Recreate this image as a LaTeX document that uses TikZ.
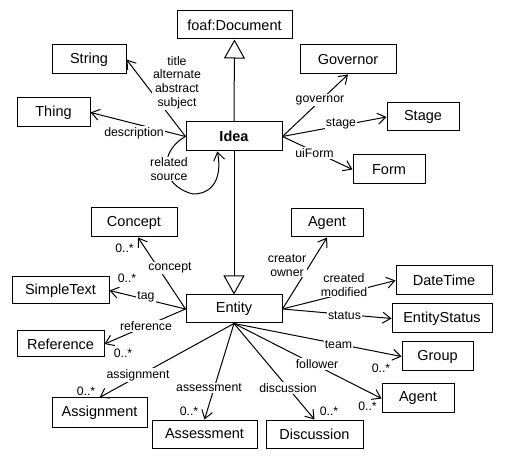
\documentclass[tikz,border=0pt]{standalone}
\usepackage{fontspec}
\setmainfont{Liberation Sans}
\usetikzlibrary{arrows.meta}
\begin{document}
\begin{tikzpicture}[x=1pt,y=-1pt,line width=1pt,
  box/.style={draw=black,inner sep=0pt,font=\fontsize{14.5}{16}\selectfont},
  lbl/.style={fill=white,inner sep=1pt,align=center,font=\fontsize{12.3}{13.7}\selectfont},
  assoc/.style={-{Straight Barb[length=8pt,width=11pt]}},
  gen/.style={-{Triangle[open,length=19pt,width=21pt]}}]
  \useasboundingbox (0,0) rectangle (509,462);
  % classes
  \node[box,minimum width=115,minimum height=28] (document) at (234.5,25) {foaf:Document};
  \node[box,minimum width=74,minimum height=29] (string) at (89,59.5) {String};
  \node[box,minimum width=73,minimum height=29] (thing) at (53.5,112.5) {Thing};
  \node[box,minimum width=96,minimum height=29,font=\fontsize{14.5}{16}\selectfont\bfseries] (idea) at (234,136.5) {Idea};
  \node[box,minimum width=96,minimum height=29] (governor) at (348,59.5) {Governor};
  \node[box,minimum width=72,minimum height=28] (stage) at (423,117) {Stage};
  \node[box,minimum width=72,minimum height=29] (form) at (389,169.5) {Form};
  \node[box,minimum width=86,minimum height=29] (concept) at (134,222.5) {Concept};
  \node[box,minimum width=72,minimum height=28] (agenta) at (327,223) {Agent};
  \node[box,minimum width=97,minimum height=27] (simpletext) at (60.5,290.5) {SimpleText};
  \node[box,minimum width=96,minimum height=29] (datetime) at (444,280.5) {DateTime};
  \node[box,minimum width=96,minimum height=28] (entity) at (234,309) {Entity};
  \node[box,minimum width=100,minimum height=29] (entitystatus) at (442,318.5) {EntityStatus};
  \node[box,minimum width=87,minimum height=26] (reference) at (60.5,344) {Reference};
  \node[box,minimum width=71,minimum height=29] (group) at (437.5,356.5) {Group};
  \node[box,minimum width=72,minimum height=29] (agentb) at (418,398.5) {Agent};
  \node[box,minimum width=95,minimum height=29] (assignment) at (99.5,412.5) {Assignment};
  \node[box,minimum width=105,minimum height=28] (assessment) at (204.5,434) {Assessment};
  \node[box,minimum width=97,minimum height=28] (discussion) at (314.5,434) {Discussion};
  % Idea
  \draw[gen] (idea.north) -- (document.south);
  \draw[assoc] (idea.west) -- (string.east);
  \draw[assoc] (idea.west) -- (thing.east);
  \draw[assoc] (idea.west) .. controls (160,150) and (158,185) .. (193,194)
    .. controls (215,194) and (222,175) .. (idea.222);
  \draw[assoc] (idea.east) -- (governor.south);
  \draw[assoc] (idea.east) -- (stage.west);
  \draw[assoc] (idea.east) -- (form.west);
  % Entity
  \draw[gen] (idea.south) -- (entity.north);
  \draw[assoc] (entity.west) -- (concept.-75);
  \draw[assoc] (entity.west) -- (simpletext.east);
  \draw[assoc] (entity.west) -- (reference.east);
  \draw[assoc] (entity.south) -- (assignment.north);
  \draw[assoc] (entity.south) -- (assessment.north);
  \draw[assoc] (entity.south) -- (discussion.north);
  \draw[assoc] (entity.south) -- (group.west);
  \draw[assoc] (entity.south) -- (agentb.west);
  \draw[assoc] (entity.east) -- (agenta.south);
  \draw[assoc] (entity.east) -- (datetime.west);
  \draw[assoc] (entity.east) -- (entitystatus.west);
  % labels
  \node[lbl] (ltitle) at (177,82.5) {title\\alternate\\abstract\\subject};
  \node[lbl] (ldescription) at (134,133) {description};
  \node[lbl] (lrelated) at (169,169) {related\\source};
  \node[lbl] (lgovernor) at (320,100) {governor};
  \node[lbl] (lstage) at (341,124) {stage};
  \node[lbl] (luiform) at (314.5,153) {uiForm};
  \node[lbl] (lconcept) at (170,268) {concept};
  \node[lbl] (mconcept) at (124.5,248) {0..*};
  \node[lbl] (mtag) at (127,278) {0..*};
  \node[lbl] (ltag) at (146,297) {tag};
  \node[lbl] (lreference) at (146,326) {reference};
  \node[lbl] (mreference) at (123,353) {0..*};
  \node[lbl] (lassignment) at (138,375) {assignment};
  \node[lbl] (massignment) at (86,391) {0..*};
  \node[lbl] (lassessment) at (209,388) {assessment};
  \node[lbl] (massessment) at (189,411) {0..*};
  \node[lbl] (lcreator) at (287,265.5) {creator\\owner};
  \node[lbl] (lcreated) at (344,285) {created\\modified};
  \node[lbl] (lstatus) at (344.5,316) {status};
  \node[lbl] (lteam) at (338.5,345) {team};
  \node[lbl] (mteam) at (381,368) {0..*};
  \node[lbl] (lfollower) at (317,364) {follower};
  \node[lbl] (mfollower) at (367.5,406) {0..*};
  \node[lbl] (ldiscussion) at (288,388) {discussion};
  \node[lbl] (mdiscussion) at (329,411) {0..*};
\end{tikzpicture}
\end{document}
